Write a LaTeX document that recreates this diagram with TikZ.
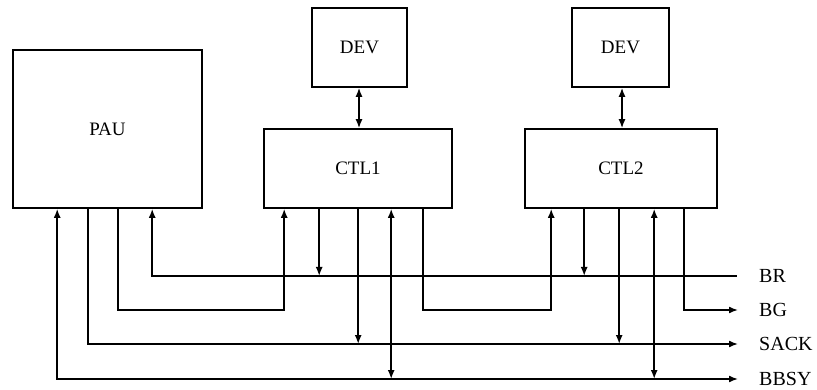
\documentclass[tikz,border=0pt]{standalone}
\usepackage{fontspec}
\setmainfont{Liberation Serif}
\usetikzlibrary{arrows.meta,calc}
\begin{document}
\begin{tikzpicture}[x=1pt,y=-1pt,
  box/.style={draw, line width=1.6pt, inner sep=0pt, font=\fontsize{19}{22}\selectfont},
  bus/.style={line width=1.6pt},
  sig/.tip={Latex[length=9pt,width=7pt]},
  lab/.style={anchor=west, inner sep=0pt, font=\fontsize{20}{24}\selectfont}]
\useasboundingbox (0,0) rectangle (817,390);

% units
\node[box, minimum width=189pt, minimum height=158pt] (pau) at (107.5,129) {PAU};
\node[box, minimum width=188pt, minimum height=79pt] (ctl1) at (358,168.5) {CTL1};
\node[box, minimum width=192pt, minimum height=79pt] (ctl2) at (621,168.5) {CTL2};
\node[box, minimum width=95pt, minimum height=79pt] (dev1) at (359.5,47.5) {DEV};
\node[box, minimum width=97pt, minimum height=79pt] (dev2) at (620.5,47.5) {DEV};

% bus line ends
\coordinate (br) at (737,276);
\coordinate (bg) at (738,310);
\coordinate (sack) at (738,344);
\coordinate (bbsy) at (738,379);

% signal labels
\node[lab] (lbr) at (759,276) {BR};
\node[lab] (lbg) at (759,310) {BG};
\node[lab] (lsack) at (759,344) {SACK};
\node[lab] (lbbsy) at (759,379) {BBSY};

% taps on the bottom edges
\coordinate (pBBSY) at ($(pau.south west)+(45,0)$);
\coordinate (pSACK) at ($(pau.south west)+(76,0)$);
\coordinate (pBG)   at ($(pau.south west)+(106,0)$);
\coordinate (pBR)   at ($(pau.south west)+(140,0)$);

\coordinate (c1in)   at ($(ctl1.south west)+(21,0)$);
\coordinate (c1br)   at ($(ctl1.south west)+(56,0)$);
\coordinate (c1sack) at ($(ctl1.south west)+(95,0)$);
\coordinate (c1bbsy) at ($(ctl1.south west)+(128,0)$);
\coordinate (c1out)  at ($(ctl1.south west)+(160,0)$);

\coordinate (c2in)   at ($(ctl2.south west)+(27,0)$);
\coordinate (c2br)   at ($(ctl2.south west)+(60,0)$);
\coordinate (c2sack) at ($(ctl2.south west)+(95,0)$);
\coordinate (c2bbsy) at ($(ctl2.south west)+(130,0)$);
\coordinate (c2out)  at ($(ctl2.south west)+(160,0)$);

% device links
\coordinate (d1) at ($(dev1.south)+(-0.5,0)$);
\coordinate (d2) at ($(dev2.south)+(1.5,0)$);
\draw[bus, sig-sig] (d1) -- (d1 |- ctl1.north);
\draw[bus, sig-sig] (d2) -- (d2 |- ctl2.north);

% bus lines from PAU
\draw[bus, sig-] (pBR) |- (br);
\draw[bus, -sig] (pSACK) |- (sack);
\draw[bus, sig-sig] (pBBSY) |- (bbsy);

% bus grant daisy chain
\draw[bus, -sig] (pBG) |- (c1in |- bg) -- (c1in);
\draw[bus, -sig] (c1out) |- (c2in |- bg) -- (c2in);
\draw[bus, -sig] (c2out) |- (bg);

% controller taps
\draw[bus, -sig] (c1br) -- (c1br |- br);
\draw[bus, -sig] (c1sack) -- (c1sack |- sack);
\draw[bus, sig-sig] (c1bbsy) -- (c1bbsy |- bbsy);
\draw[bus, -sig] (c2br) -- (c2br |- br);
\draw[bus, -sig] (c2sack) -- (c2sack |- sack);
\draw[bus, sig-sig] (c2bbsy) -- (c2bbsy |- bbsy);
\end{tikzpicture}
\end{document}
